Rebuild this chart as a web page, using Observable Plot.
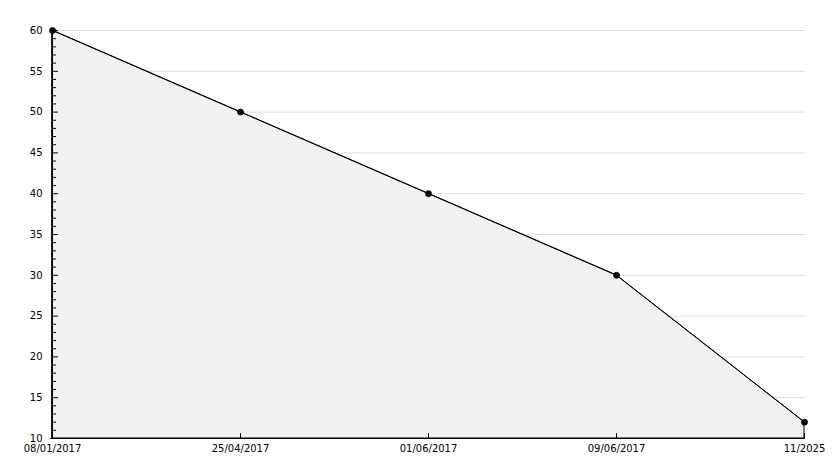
<!DOCTYPE html>
<html>
<head>
<meta charset="utf-8">
<script src="https://cdn.jsdelivr.net/npm/d3@7"></script>
<script src="https://cdn.jsdelivr.net/npm/@observablehq/plot@0.6"></script>
<style>
  html, body { margin: 0; padding: 0; background: #fff; }
  #chart svg { display: block; }
</style>
</head>
<body>
<div id="chart"></div>
<script>
const dates = ["08/01/2017", "25/04/2017", "01/06/2017", "09/06/2017", "11/2025"];
const values = [60, 50, 40, 30, 12];
const yMin = 10;
const yMax = 60;
const yMajorTicks = [10, 15, 20, 25, 30, 35, 40, 45, 50, 55, 60];
const yMinorTicks = [11,12,13,14,16,17,18,19,21,22,23,24,26,27,28,29,31,32,33,34,36,37,38,39,41,42,43,44,46,47,48,49,51,52,53,54,56,57,58,59];
const yGridTicks = [15, 20, 25, 30, 35, 40, 45, 50, 55, 60];

const data = dates.map((d, i) => ({date: d, value: values[i]}));
const firstDate = () => dates[0];
const baseY = () => yMin;

const chart = Plot.plot({
  width: 834,
  height: 468,
  marginLeft: 50,
  marginRight: 29,
  marginTop: 30,
  marginBottom: 30,
  style: {fontFamily: "DejaVu Sans", fontSize: "10px", color: "#000", background: "#fff"},
  x: {type: "point", domain: dates, padding: 0, label: null},
  y: {domain: [yMin, yMax], label: null},
  marks: [
    Plot.gridY(yGridTicks, {stroke: "#dddddd", strokeOpacity: 1, strokeWidth: 1}),
    Plot.areaY(data, {x: "date", y1: yMin, y2: "value", fill: "#f1f1f1", stroke: "#000", strokeWidth: 1, curve: "linear"}),
    Plot.line(data, {x: "date", y: "value", stroke: "#000", strokeWidth: 1}),
    Plot.ruleX([dates[0]], {stroke: "#000", strokeWidth: 1}),
    Plot.ruleY([yMin], {stroke: "#000", strokeWidth: 1}),
    Plot.ruleY(yMinorTicks, {y: d => d, x1: firstDate, x2: firstDate, insetRight: -4, stroke: "#000", strokeWidth: 1}),
    Plot.ruleY(yMajorTicks, {y: d => d, x1: firstDate, x2: firstDate, insetRight: -6, stroke: "#000", strokeWidth: 1}),
    Plot.ruleX(dates, {x: d => d, y1: baseY, y2: baseY, insetTop: -5, stroke: "#000", strokeWidth: 1}),
    Plot.axisY(yMajorTicks, {tickSize: 0, tickPadding: 8, label: null, fill: "#000"}),
    Plot.axisX(dates, {tickSize: 0, tickPadding: 6, label: null, fill: "#000"}),
    Plot.dot(data, {x: "date", y: "value", r: 3, fill: "#000", stroke: "#000", strokeWidth: 0.8})
  ]
});
document.getElementById("chart").appendChild(chart);
</script>
</body>
</html>
